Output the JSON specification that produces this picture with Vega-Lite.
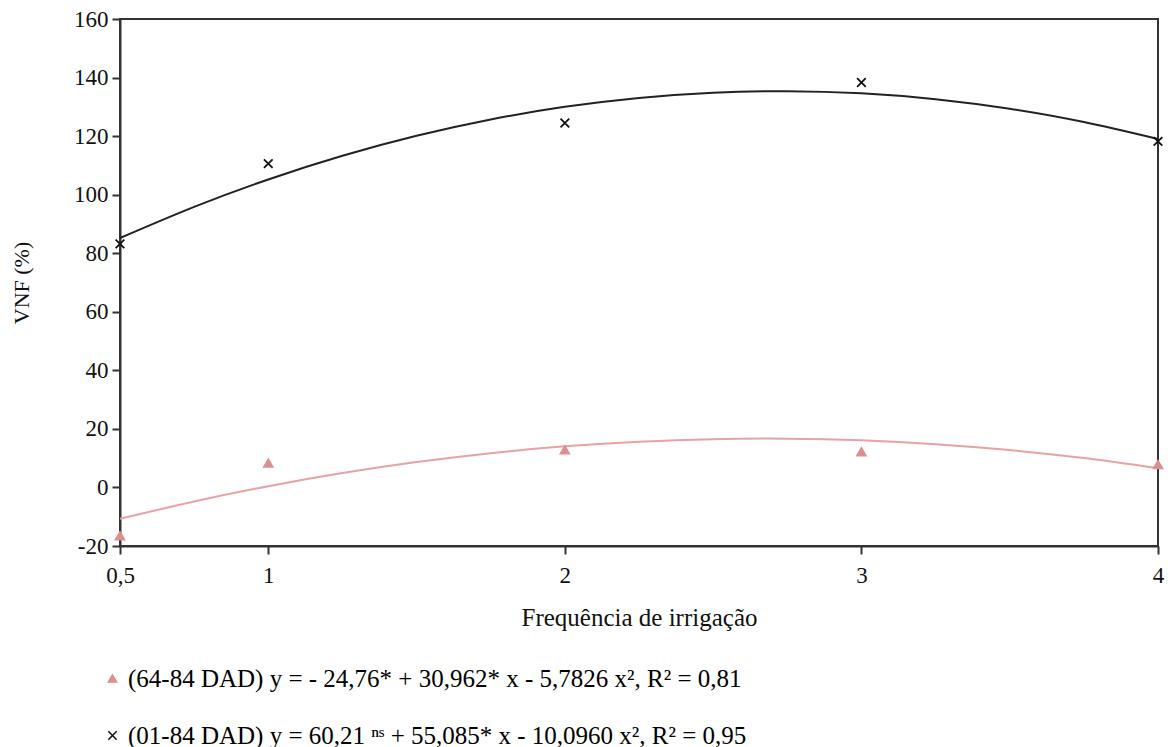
{
  "$schema": "https://vega.github.io/schema/vega-lite/v6.json",
  "width": 1038,
  "height": 527,
  "autosize": "none",
  "padding": {"left": 120, "top": 19, "right": 10, "bottom": 201},
  "background": "white",
  "config": {
    "font": "Liberation Serif",
    "view": {"stroke": "#333333", "strokeWidth": 2},
    "axis": {
      "domainColor": "#333333",
      "domainWidth": 2,
      "tickColor": "#333333",
      "tickWidth": 2,
      "tickSize": 8,
      "grid": false,
      "labelFlush": false,
      "labelFont": "Liberation Serif",
      "titleFont": "Liberation Serif",
      "titleFontWeight": "normal",
      "titleColor": "#111111",
      "labelColor": "#111111"
    }
  },
  "datasets": {
    "points": [
      {"x": 0.5, "y": 83.2, "series": "01-84 DAD"},
      {"x": 1, "y": 110.6, "series": "01-84 DAD"},
      {"x": 2, "y": 124.5, "series": "01-84 DAD"},
      {"x": 3, "y": 138.3, "series": "01-84 DAD"},
      {"x": 4, "y": 118.2, "series": "01-84 DAD"},
      {"x": 0.5, "y": -16.5, "series": "64-84 DAD"},
      {"x": 1, "y": 8.3, "series": "64-84 DAD"},
      {"x": 2, "y": 12.8, "series": "64-84 DAD"},
      {"x": 3, "y": 12.2, "series": "64-84 DAD"},
      {"x": 4, "y": 7.8, "series": "64-84 DAD"}
    ],
    "curves": [
      {"x": 0.5, "y": 85.2, "series": "01-84 DAD"},
      {"x": 0.75, "y": 95.85, "series": "01-84 DAD"},
      {"x": 1.0, "y": 105.2, "series": "01-84 DAD"},
      {"x": 1.25, "y": 113.29, "series": "01-84 DAD"},
      {"x": 1.5, "y": 120.12, "series": "01-84 DAD"},
      {"x": 1.75, "y": 125.69, "series": "01-84 DAD"},
      {"x": 2.0, "y": 130.0, "series": "01-84 DAD"},
      {"x": 2.25, "y": 133.04, "series": "01-84 DAD"},
      {"x": 2.5, "y": 134.82, "series": "01-84 DAD"},
      {"x": 2.75, "y": 135.34, "series": "01-84 DAD"},
      {"x": 3.0, "y": 134.6, "series": "01-84 DAD"},
      {"x": 3.25, "y": 132.6, "series": "01-84 DAD"},
      {"x": 3.5, "y": 129.33, "series": "01-84 DAD"},
      {"x": 3.75, "y": 124.8, "series": "01-84 DAD"},
      {"x": 4.0, "y": 119.01, "series": "01-84 DAD"},
      {"x": 0.5, "y": -10.72, "series": "64-84 DAD"},
      {"x": 0.75, "y": -4.79, "series": "64-84 DAD"},
      {"x": 1.0, "y": 0.42, "series": "64-84 DAD"},
      {"x": 1.25, "y": 4.91, "series": "64-84 DAD"},
      {"x": 1.5, "y": 8.67, "series": "64-84 DAD"},
      {"x": 1.75, "y": 11.71, "series": "64-84 DAD"},
      {"x": 2.0, "y": 14.03, "series": "64-84 DAD"},
      {"x": 2.25, "y": 15.63, "series": "64-84 DAD"},
      {"x": 2.5, "y": 16.5, "series": "64-84 DAD"},
      {"x": 2.75, "y": 16.65, "series": "64-84 DAD"},
      {"x": 3.0, "y": 16.08, "series": "64-84 DAD"},
      {"x": 3.25, "y": 14.79, "series": "64-84 DAD"},
      {"x": 3.5, "y": 12.77, "series": "64-84 DAD"},
      {"x": 3.75, "y": 10.03, "series": "64-84 DAD"},
      {"x": 4.0, "y": 6.57, "series": "64-84 DAD"}
    ]
  },
  "encoding": {
    "x": {
      "field": "x", "type": "quantitative",
      "scale": {"domain": [0.5, 4], "nice": false, "zero": false},
      "axis": {
        "values": [0.5, 1, 2, 3, 4],
        "labelExpr": "replace(toString(datum.value), '.', ',')",
        "labelFontSize": 23,
        "title": "Frequência de irrigação",
        "titleFontSize": 25,
        "labelPadding": 10,
        "titlePadding": 18
      }
    },
    "y": {
      "field": "y", "type": "quantitative",
      "scale": {"domain": [-20, 160], "nice": false, "zero": false},
      "axis": {
        "values": [-20, 0, 20, 40, 60, 80, 100, 120, 140, 160],
        "labelExpr": "toString(datum.value)",
        "labelFontSize": 23,
        "title": "VNF (%)",
        "titleFontSize": 22,
        "labelPadding": 4,
        "titlePadding": 40
      }
    }
  },
  "layer": [
    {
      "data": {"name": "curves"},
      "transform": [{"filter": "datum.series === '01-84 DAD'"}],
      "mark": {"type": "line", "interpolate": "natural", "strokeWidth": 2, "color": "#222222"},
      "encoding": {}
    },
    {
      "data": {"name": "curves"},
      "transform": [{"filter": "datum.series === '64-84 DAD'"}],
      "mark": {"type": "line", "interpolate": "natural", "strokeWidth": 2, "color": "#e8a2a2"},
      "encoding": {}
    },
    {
      "data": {"name": "points"},
      "mark": {"type": "point", "filled": true, "size": 75, "strokeWidth": 1.8, "opacity": 1},
      "encoding": {
        "shape": {
          "field": "series", "type": "nominal",
          "scale": {"domain": ["64-84 DAD", "01-84 DAD"], "range": ["triangle-up", "M-1,-1L1,1M-1,1L1,-1"]},
          "legend": {
            "orient": "none",
            "legendX": -20,
            "legendY": 647,
            "padding": 0,
            "title": null,
            "direction": "vertical",
            "rowPadding": 31,
            "labelFontSize": 25,
            "labelFont": "Liberation Serif",
            "labelOffset": 3,
            "labelLimit": 1000,
            "symbolSize": 70,
            "symbolStrokeWidth": 1.5,
            "labelExpr": "datum.label == '64-84 DAD' ? '(64-84 DAD) y = - 24,76* + 30,962* x - 5,7826 x², R² = 0,81' : '(01-84 DAD) y = 60,21 ⁿˢ + 55,085* x - 10,0960 x², R² = 0,95'",
            "encode": {
              "labels": {
                "update": {
                  "fill": {"signal": "datum.value === '64-84 DAD' ? '#dc9494' : '#000000'"}
                }
              }
            }
          }
        },
        "fill": {
          "field": "series", "type": "nominal",
          "scale": {"domain": ["64-84 DAD", "01-84 DAD"], "range": ["#dc8f8f", "#111111"]}
        },
        "stroke": {
          "field": "series", "type": "nominal",
          "scale": {"domain": ["64-84 DAD", "01-84 DAD"], "range": ["#dc8f8f", "#111111"]}
        }
      }
    }
  ]
}
